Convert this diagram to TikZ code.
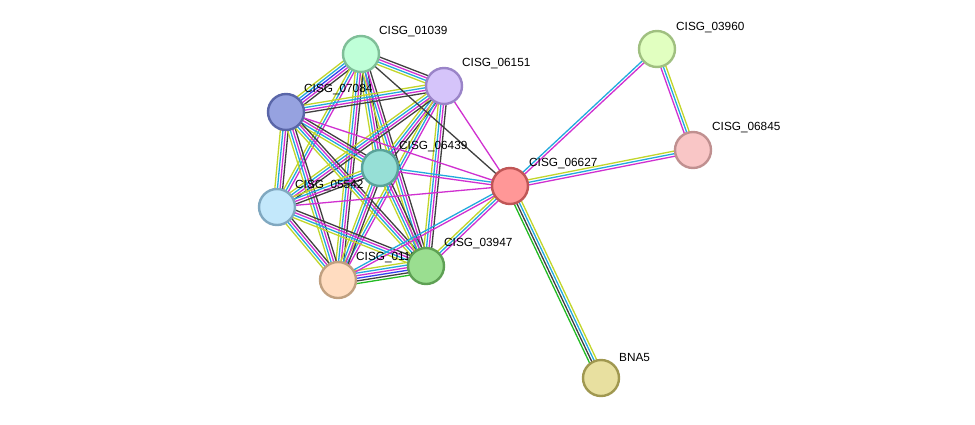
\documentclass[tikz,border=0pt]{standalone}
\usepackage{fontspec}
\setmainfont{Liberation Sans}
\usetikzlibrary{calc}
\definecolor{tm}{HTML}{C2D62A}
\definecolor{db}{HTML}{22AADD}
\definecolor{ex}{HTML}{D030D0}
\definecolor{co}{HTML}{404040}
\definecolor{nb}{HTML}{22BB22}
\definecolor{ho}{HTML}{3344EE}
\newcommand{\nedge}[3]{%
  \def\clist{#3}%
  \foreach \c [count=\i] in \clist {\xdef\ncount{\i}}%
  \foreach \c [count=\i] in \clist {%
    \pgfmathsetmacro{\off}{(\i-(\ncount+1)/2)*2.6}%
    \draw[\c,line width=1.3pt] ($(#1)!\off pt!90:(#2)$) -- ($(#2)!\off pt!-90:(#1)$);
  }}
\tikzset{
  prot/.style={circle,minimum size=36pt,inner sep=0pt,line width=2.4pt},
  lab/.style={anchor=west,inner sep=0pt,font=\fontsize{11.8}{13}\selectfont}
}
\begin{document}
\begin{tikzpicture}[x=1pt,y=-1pt]
\useasboundingbox[fill=white] (0,0) rectangle (975,424);
\coordinate (A) at (361,54);   % 01039
\coordinate (B) at (444,86);   % 06151
\coordinate (C) at (286,112);  % 07084
\coordinate (D) at (380,168);  % 06439
\coordinate (E) at (510,186);  % 06627
\coordinate (F) at (277,207);  % 05542
\coordinate (G) at (338,280);  % 01x
\coordinate (H) at (426,266);  % 03947
\coordinate (I) at (657,49);   % 03960
\coordinate (J) at (693,150);  % 06845
\coordinate (K) at (601,378);  % BNA5
% cluster edges
\nedge{A}{B}{tm,db,ex,co}
\nedge{A}{C}{tm,db,ho,ex,co}
\nedge{A}{D}{tm,db,ex,co}
\nedge{A}{F}{tm,db,ex}
\nedge{A}{G}{tm,db,ex,co}
\nedge{A}{H}{tm,db,ex,co}
\nedge{B}{C}{tm,db,ex,co}
\nedge{B}{D}{tm,db,ex,co}
\nedge{B}{F}{tm,db,ex,co}
\nedge{B}{G}{tm,db,ex}
\nedge{B}{H}{tm,db,ex,co}
\nedge{C}{D}{tm,db,ex,co}
\nedge{C}{F}{tm,db,ex,co}
\nedge{C}{G}{tm,db,ex,co}
\nedge{C}{H}{tm,db,ex,co}
\nedge{D}{F}{tm,db,ex,co}
\nedge{D}{G}{tm,db,ex,co}
\nedge{D}{H}{tm,db,ex,co}
\nedge{F}{G}{tm,db,ex,co}
\nedge{F}{H}{tm,db,ex,co}
\nedge{G}{H}{nb,co,ho,ex,db,tm}
% hub edges
\nedge{E}{A}{co}
\nedge{E}{B}{ex}
\nedge{E}{C}{ex}
\nedge{E}{D}{db,ex}
\nedge{E}{F}{ex}
\nedge{E}{G}{db,ex}
\nedge{E}{H}{tm,db,ex}
\nedge{E}{I}{ex,db}
\nedge{E}{J}{ex,db,tm}
\nedge{I}{J}{ex,db,tm}
\nedge{E}{K}{nb,co,db,tm}
% labels
\node[lab] at (379,32) {CISG\_01039};
\node[lab] at (462,64) {CISG\_06151};
\node[lab] at (304,90) {CISG\_07084};
\node[lab] at (399,147) {CISG\_06439};
\node[lab] at (529,164) {CISG\_06627};
\node[lab] at (295,186) {CISG\_05542};
\node[lab] at (356,258) {CISG\_01195};
\node[lab] at (444,244) {CISG\_03947};
\node[lab] at (676,28) {CISG\_03960};
\node[lab] at (712,128) {CISG\_06845};
\node[lab] at (619,357) {BNA5};
% nodes
\node[prot,fill={rgb,255:red,191;green,255;blue,216},draw={rgb,255:red,127;green,191;blue,152}] (nA) at (A) {};
\node[prot,fill={rgb,255:red,213;green,196;blue,250},draw={rgb,255:red,154;green,132;blue,200}] (nB) at (B) {};
\node[prot,fill={rgb,255:red,150;green,162;blue,224},draw={rgb,255:red,90;green,102;blue,168}] (nC) at (C) {};
\node[prot,fill={rgb,255:red,150;green,223;blue,214},draw={rgb,255:red,90;green,163;blue,154}] (nD) at (D) {};
\node[prot,fill={rgb,255:red,255;green,151;blue,151},draw={rgb,255:red,192;green,86;blue,86}] (nE) at (E) {};
\node[prot,fill={rgb,255:red,195;green,232;blue,251},draw={rgb,255:red,128;green,168;blue,192}] (nF) at (F) {};
\node[prot,fill={rgb,255:red,255;green,220;blue,192},draw={rgb,255:red,192;green,160;blue,128}] (nG) at (G) {};
\node[prot,fill={rgb,255:red,154;green,222;blue,144},draw={rgb,255:red,94;green,160;blue,84}] (nH) at (H) {};
\node[prot,fill={rgb,255:red,225;green,255;blue,192},draw={rgb,255:red,160;green,192;blue,128}] (nI) at (I) {};
\node[prot,fill={rgb,255:red,249;green,198;blue,198},draw={rgb,255:red,192;green,144;blue,144}] (nJ) at (J) {};
\node[prot,fill={rgb,255:red,232;green,224;blue,160},draw={rgb,255:red,160;green,152;blue,80}] (nK) at (K) {};
\end{tikzpicture}
\end{document}
